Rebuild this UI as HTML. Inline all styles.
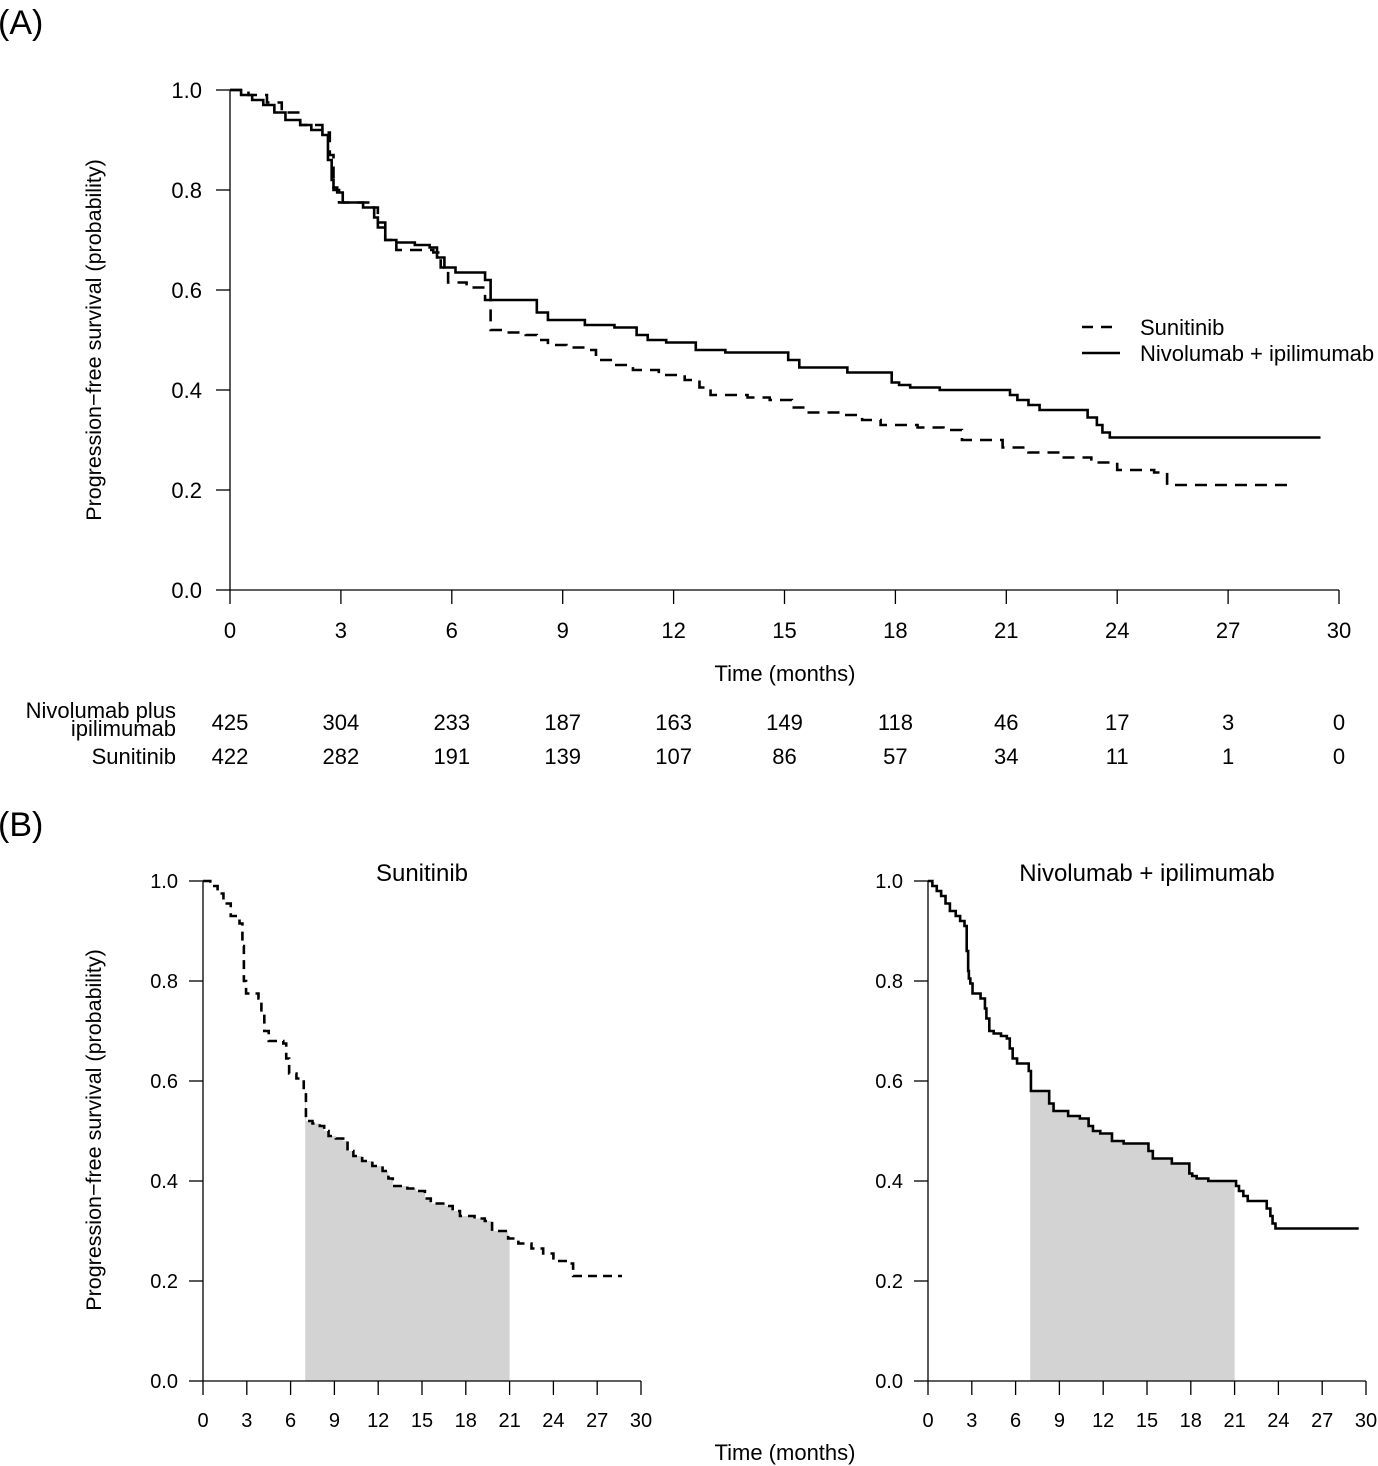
<!DOCTYPE html>
<html><head><meta charset="utf-8"><style>
html,body{margin:0;padding:0;background:#fff}
svg{display:block;font-family:"Liberation Sans",Arial,sans-serif}
</style></head><body>
<svg id="chart" width="1378" height="1466" viewBox="0 0 1378 1466" xmlns="http://www.w3.org/2000/svg"></svg>
<script>
const nivT = [0,0.3,0.6,0.9,1.2,1.5,1.9,2.2,2.5,2.65,2.75,2.8,2.9,3.05,3.6,3.9,4.0,4.2,4.5,5.0,5.4,5.6,5.8,6.1,6.9,7.05,8.3,8.6,9.6,10.4,11.0,11.3,11.8,12.6,13.4,15.1,15.4,16.7,17.9,18.1,18.4,19.2,21.1,21.3,21.6,21.9,23.2,23.45,23.6,23.8];
const nivS = [1.0,0.99,0.98,0.97,0.955,0.94,0.93,0.92,0.91,0.86,0.82,0.805,0.795,0.775,0.765,0.745,0.725,0.7,0.695,0.69,0.685,0.665,0.645,0.635,0.62,0.58,0.555,0.54,0.53,0.525,0.51,0.5,0.495,0.48,0.475,0.46,0.445,0.435,0.415,0.41,0.405,0.4,0.39,0.38,0.37,0.36,0.345,0.33,0.315,0.305];
const nivEnd = 29.5;
const sunT = [0,0.5,1.0,1.4,1.9,2.5,2.7,2.8,2.95,3.8,4.0,4.2,4.5,5.5,5.7,5.9,6.4,6.9,7.05,7.5,8.0,8.3,8.6,9.1,9.6,9.9,10.3,10.9,11.6,12.3,12.7,13.0,14.0,14.6,15.2,15.6,16.6,17.1,17.6,18.6,19.3,19.8,20.9,21.6,22.5,23.3,24.0,25.0,25.35];
const sunS = [1.0,0.99,0.975,0.955,0.93,0.915,0.87,0.80,0.775,0.765,0.735,0.7,0.68,0.675,0.645,0.615,0.605,0.58,0.52,0.515,0.51,0.5,0.49,0.485,0.48,0.46,0.45,0.44,0.43,0.42,0.405,0.39,0.385,0.38,0.365,0.355,0.35,0.34,0.33,0.325,0.32,0.3,0.285,0.275,0.265,0.255,0.24,0.235,0.21];
const sunEnd = 28.7;
const xTicks = [0,3,6,9,12,15,18,21,24,27,30];
const yTicks = [0,0.2,0.4,0.6,0.8,1.0];
const nivRisk = [425,304,233,187,163,149,118,46,17,3,0];
const sunRisk = [422,282,191,139,107,86,57,34,11,1,0];
const shadeFrom = 7, shadeTo = 21;

const NS='http://www.w3.org/2000/svg';
const svg=document.getElementById('chart');
function mk(tag,attrs,parent){const e=document.createElementNS(NS,tag);for(const k in attrs)e.setAttribute(k,attrs[k]);(parent||svg).appendChild(e);return e;}
function txt(s,x,y,size,anchor,parent){const t=mk('text',{x:x,y:y,'font-size':size,'text-anchor':anchor||'middle',fill:'#000'},parent);t.textContent=s;return t;}

function axes(x0,x1,y0,y1){
  return {sx:v=>x0+(x1-x0)*v/30, sy:v=>y0+(y1-y0)*v};
}
function stepPath(T,S,end,ax){
  let d='M'+ax.sx(T[0])+','+ax.sy(S[0]);
  for(let i=1;i<T.length;i++){d+=' L'+ax.sx(T[i])+','+ax.sy(S[i-1])+' L'+ax.sx(T[i])+','+ax.sy(S[i]);}
  d+=' L'+ax.sx(end)+','+ax.sy(S[S.length-1]);
  return d;
}
function survAt(T,S,t){let s=S[0];for(let i=0;i<T.length;i++){if(T[i]<=t)s=S[i];}return s;}
function shade(T,S,ax,g){
  let d='M'+ax.sx(shadeFrom)+','+ax.sy(0)+' L'+ax.sx(shadeFrom)+','+ax.sy(survAt(T,S,shadeFrom));
  let prev=survAt(T,S,shadeFrom);
  for(let i=0;i<T.length;i++){if(T[i]>shadeFrom&&T[i]<shadeTo){d+=' L'+ax.sx(T[i])+','+ax.sy(prev)+' L'+ax.sx(T[i])+','+ax.sy(S[i]);prev=S[i];}}
  d+=' L'+ax.sx(shadeTo)+','+ax.sy(prev)+' L'+ax.sx(shadeTo)+','+ax.sy(0)+' Z';
  const p=mk('path',{d:d,fill:'#d3d3d3',stroke:'none'},g);
  
  
}
function drawAxes(ax,g,fs,labelOffset,xlabOff){
  const yb=ax.sy(0), xl=ax.sx(0);
  mk('line',{x1:xl,y1:ax.sy(0),x2:xl,y2:ax.sy(1),stroke:'#000','stroke-width':1.3},g);
  yTicks.forEach(v=>{mk('line',{x1:xl-14,y1:ax.sy(v),x2:xl,y2:ax.sy(v),stroke:'#000','stroke-width':1.3},g);
    txt(v.toFixed(1),xl-labelOffset,ax.sy(v)+fs*0.36,fs,'end',g);});
  mk('line',{x1:ax.sx(0),y1:yb,x2:ax.sx(30),y2:yb,stroke:'#000','stroke-width':1.3},g);
  xTicks.forEach(v=>{mk('line',{x1:ax.sx(v),y1:yb,x2:ax.sx(v),y2:yb+14,stroke:'#000','stroke-width':1.3},g);
    txt(String(v),ax.sx(v),yb+xlabOff,fs,'middle',g);});
}

// Panel A
const gA=mk('g',{});


txt('(A)',-2,34,34,'start',gA);
const axA=axes(230,1339,590,90);
drawAxes(axA,gA,22,28,48);
const lsA=mk('path',{d:stepPath(sunT,sunS,sunEnd,axA),fill:'none',stroke:'#000','stroke-width':2.6,'stroke-dasharray':'12,8'},gA);


const lnA=mk('path',{d:stepPath(nivT,nivS,nivEnd,axA),fill:'none',stroke:'#000','stroke-width':2.6},gA);


txt('Time (months)',785,681,22,'middle',gA);
const ylA=txt('Progression\u2212free survival (probability)',0,0,21.5,'middle',gA);
ylA.setAttribute('transform','translate(101,340) rotate(-90)');
const leg=mk('g',{},gA);


mk('line',{x1:1082,y1:327,x2:1120,y2:327,stroke:'#000','stroke-width':2.6,'stroke-dasharray':'11,8'},leg);
txt('Sunitinib',1140,335,22,'start',leg);
mk('line',{x1:1082,y1:353,x2:1120,y2:353,stroke:'#000','stroke-width':2.6},leg);
txt('Nivolumab + ipilimumab',1140,361,22,'start',leg);
const rt=mk('g',{},gA);


txt('Nivolumab plus',176,718,22,'end',rt);
txt('ipilimumab',176,736,22,'end',rt);
txt('Sunitinib',176,764,22,'end',rt);
nivRisk.forEach((v,i)=>txt(String(v),axA.sx(xTicks[i]),730,22,'middle',rt));
sunRisk.forEach((v,i)=>txt(String(v),axA.sx(xTicks[i]),764,22,'middle',rt));

// Panel B
const gB=mk('g',{});


txt('(B)',-2,836,34,'start',gB);
const axL=axes(203,641,1381,881);
shade(sunT,sunS,axL,gB);
drawAxes(axL,gB,20,25,46);
const lsB=mk('path',{d:stepPath(sunT,sunS,sunEnd,axL),fill:'none',stroke:'#000','stroke-width':2.6,'stroke-dasharray':'9,6'},gB);


txt('Sunitinib',422,881,24,'middle',gB);
const axR=axes(928,1366,1381,881);
shade(nivT,nivS,axR,gB);
drawAxes(axR,gB,20,25,46);
const lnB=mk('path',{d:stepPath(nivT,nivS,nivEnd,axR),fill:'none',stroke:'#000','stroke-width':2.6},gB);


txt('Nivolumab + ipilimumab',1147,881,24,'middle',gB);
txt('Time (months)',785,1460,22,'middle',gB);
const ylB=txt('Progression\u2212free survival (probability)',0,0,21.5,'middle',gB);
ylB.setAttribute('transform','translate(101,1130) rotate(-90)');
</script>
</body></html>
